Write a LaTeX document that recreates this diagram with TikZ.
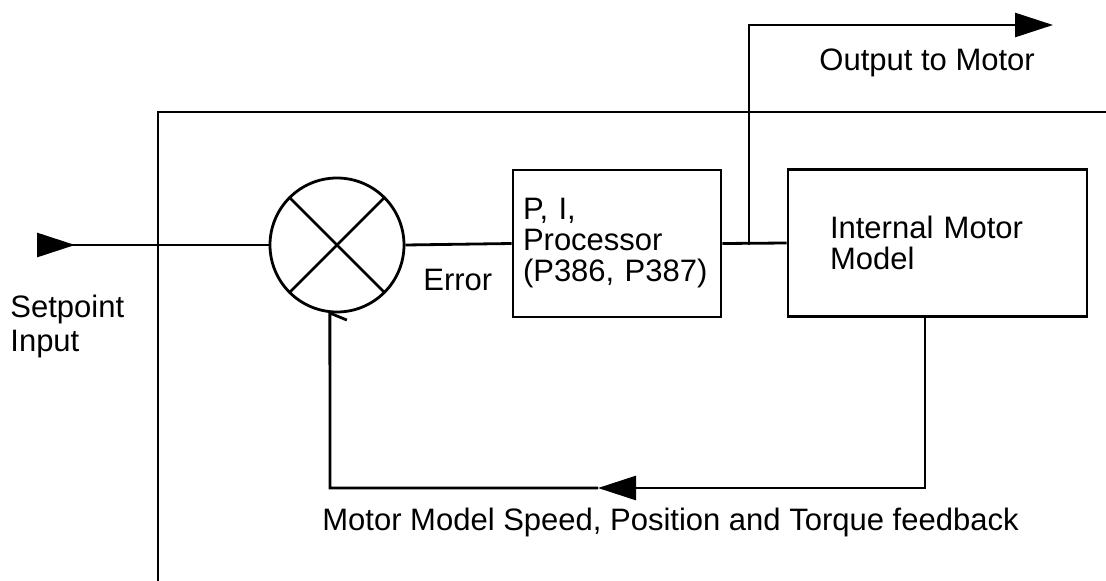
\documentclass[tikz,border=0pt]{standalone}
\usepackage{fontspec}
\setmainfont{Liberation Sans}
\usetikzlibrary{arrows.meta,positioning}

\tikzset{
    blk/.style={draw, minimum height=147pt, align=left, inner ysep=4pt},
    lbl/.style={font=\fontsize{31}{34}\selectfont, inner sep=0pt},
    bigtip/.tip={Triangle[length=38pt, width=24pt]}
}

\begin{document}
\begin{tikzpicture}[x=1pt, y=-1pt, line width=2.8pt, font=\fontsize{31}{31}\selectfont]

\useasboundingbox (0,0) rectangle (1106,581);

% Summing junction
\node[circle, draw, minimum size=134pt, inner sep=0pt] (sum) at (337,245) {};
\draw (sum.north west) -- (sum.south east);
\draw (sum.north east) -- (sum.south west);

% Blocks
\node[blk, text width=188pt, inner xsep=10pt] (pi) at (617,243.5) {P, I,\\Processor\\(P386, P387)};
\node[blk, text width=215pt, inner xsep=42pt] (motor) at (937.5,243) {Internal Motor\\Model};

% Outer frame line
\coordinate (frameR) at (1106,112);
\coordinate (frameC) at (158,112);
\coordinate (frameB) at (158,581);
\draw (frameR) -- (frameC) -- (frameB);

% Setpoint input
\coordinate (in) at (37,245);
\draw[{bigtip[reversed]}-] (in) -- (sum.west);
\node[lbl, anchor=base west, align=left] (sp) at (9,351) {Setpoint\\Input};

% Forward path
\draw (sum.east) -- (pi.west);
\node[lbl, anchor=base west] (err) at (422,290) {Error};
\draw (pi.east) -- (motor.west);

% Output to motor
\coordinate (tap) at (749,245);
\coordinate (out) at (1053,25);
\draw[-bigtip] (tap) |- (out);
\node[lbl, anchor=base west] (outlbl) at (818,70) {Output to Motor};

% Feedback
\coordinate (fbtip) at (598,488);
\coordinate (fbcorner) at (330,488);
\draw[-bigtip] ([xshift=-12.5pt]motor.south) |- (fbtip);
\draw (fbtip) -- (fbcorner) -- (sum.264);
\draw (sum.264) -- ++(17,7);
\node[lbl, anchor=base west] (fblbl) at (321,530) {Motor Model Speed, Position and Torque feedback};

\end{tikzpicture}
\end{document}
